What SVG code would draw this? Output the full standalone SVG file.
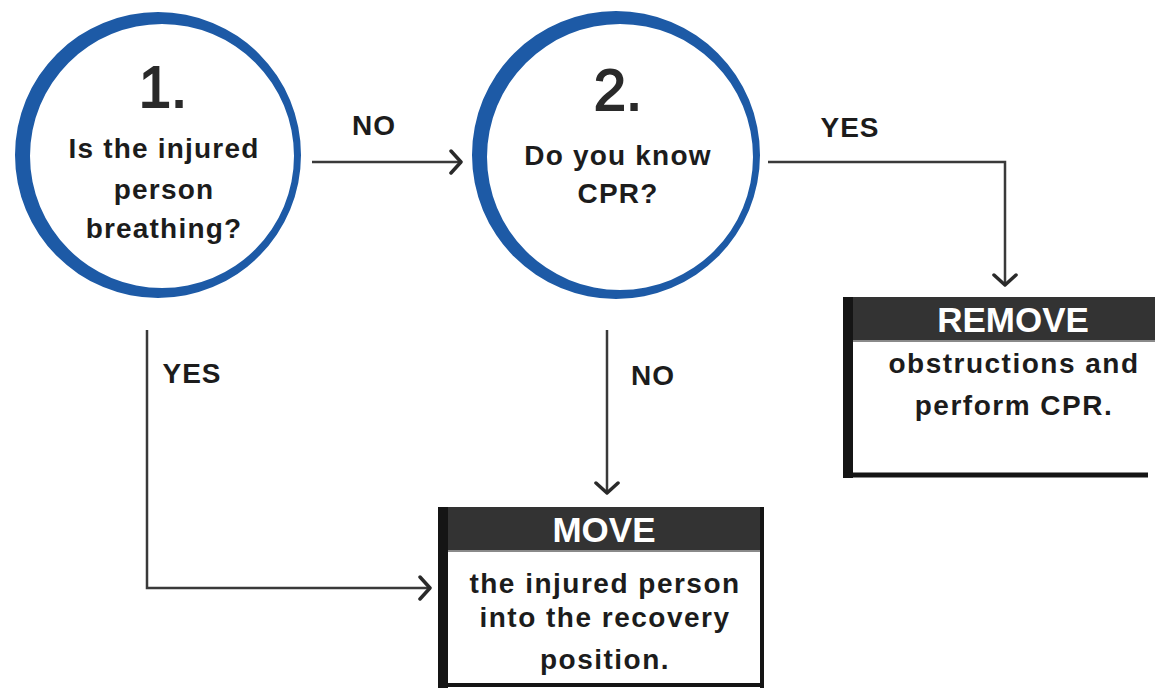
<svg xmlns="http://www.w3.org/2000/svg" width="1155" height="688" viewBox="0 0 1155 688">
  <style>
    .t { font-family: "Liberation Sans", Arial, sans-serif; font-weight: bold; fill: #1c1c1c; text-anchor: middle; }
    .q { font-size: 28px; letter-spacing: 1.2px; }
    .num { font-family: "Liberation Sans", Arial, sans-serif; font-size: 58px; fill: #2a2a2a; stroke: #2a2a2a; stroke-width: 1.8; text-anchor: middle; }
    .lbl { font-size: 28px; letter-spacing: 1px; }
    .hdr { font-size: 35px; fill: #ffffff; }
    .body { font-size: 28px; letter-spacing: 1.5px; }
    .ring { fill: #1d5aa6; fill-rule: evenodd; }
    .bar { fill: #333333; }
    .edge { stroke: #151515; fill: none; }
    .conn { fill: none; stroke: #3a3a3a; stroke-width: 2.5; }
  </style>
  <defs>
    <marker id="chev" viewBox="0 0 14 26" markerWidth="14" markerHeight="26" refX="12" refY="13" orient="auto" markerUnits="userSpaceOnUse">
      <path d="M2,2 L12,13 L2,24" fill="none" stroke="#2a2a2a" stroke-width="3.5" stroke-linecap="round" stroke-linejoin="round"/>
    </marker>
  </defs>
  <rect width="1155" height="688" fill="#ffffff"/>

  <g id="connectors">
    <path class="conn" d="M312,162 H461" marker-end="url(#chev)"/>
    <path class="conn" d="M768,162 H1005 V285" marker-end="url(#chev)"/>
    <path class="conn" d="M607,330 V493" marker-end="url(#chev)"/>
    <path class="conn" d="M147,330 V588 H430" marker-end="url(#chev)"/>
    <text class="t lbl" x="374" y="135">NO</text>
    <text class="t lbl" x="850" y="137">YES</text>
    <text class="t lbl" x="653" y="385">NO</text>
    <text class="t lbl" x="192" y="383">YES</text>
  </g>

  <g id="node1">
    <path class="ring" d="M15,155 a143,143 0 1,0 286,0 a143,143 0 1,0 -286,0 Z M30,156 a132,132 0 1,0 264,0 a132,132 0 1,0 -264,0 Z"/>
    <text class="num" x="163" y="107">1.</text>
    <text class="t q" x="164" y="158">Is the injured</text>
    <text class="t q" x="164" y="199">person</text>
    <text class="t q" x="164" y="238">breathing?</text>
  </g>

  <g id="node2">
    <path class="ring" d="M472,155 a144,144 0 1,0 288,0 a144,144 0 1,0 -288,0 Z M487,157 a133,133 0 1,0 266,0 a133,133 0 1,0 -266,0 Z"/>
    <text class="num" x="618" y="110">2.</text>
    <text class="t q" x="618" y="165">Do you know</text>
    <text class="t q" x="618" y="203">CPR?</text>
  </g>

  <g id="remove">
    <rect x="843" y="297" width="312" height="43" class="bar"/>
    <line x1="843" y1="341" x2="1155" y2="341" stroke="#8a8a8a" stroke-width="2"/>
    <line x1="848" y1="297" x2="848" y2="478" class="edge" stroke-width="10"/>
    <line x1="843" y1="475" x2="1148" y2="475" class="edge" stroke-width="5"/>
    <text class="t hdr" x="1013" y="332">REMOVE</text>
    <text class="t body" x="1014" y="373">obstructions and</text>
    <text class="t body" x="1014" y="415">perform CPR.</text>
  </g>

  <g id="move">
    <rect x="438" y="507" width="325" height="43" class="bar"/>
    <line x1="443" y1="551" x2="763" y2="551" stroke="#8a8a8a" stroke-width="2"/>
    <line x1="443" y1="507" x2="443" y2="688" class="edge" stroke-width="10"/>
    <line x1="762" y1="507" x2="762" y2="688" class="edge" stroke-width="4"/>
    <line x1="438" y1="685" x2="763" y2="685" class="edge" stroke-width="4"/>
    <text class="t hdr" x="604" y="542">MOVE</text>
    <text class="t body" x="605" y="593">the injured person</text>
    <text class="t body" x="605" y="627">into the recovery</text>
    <text class="t body" x="605" y="669">position.</text>
  </g>
</svg>
